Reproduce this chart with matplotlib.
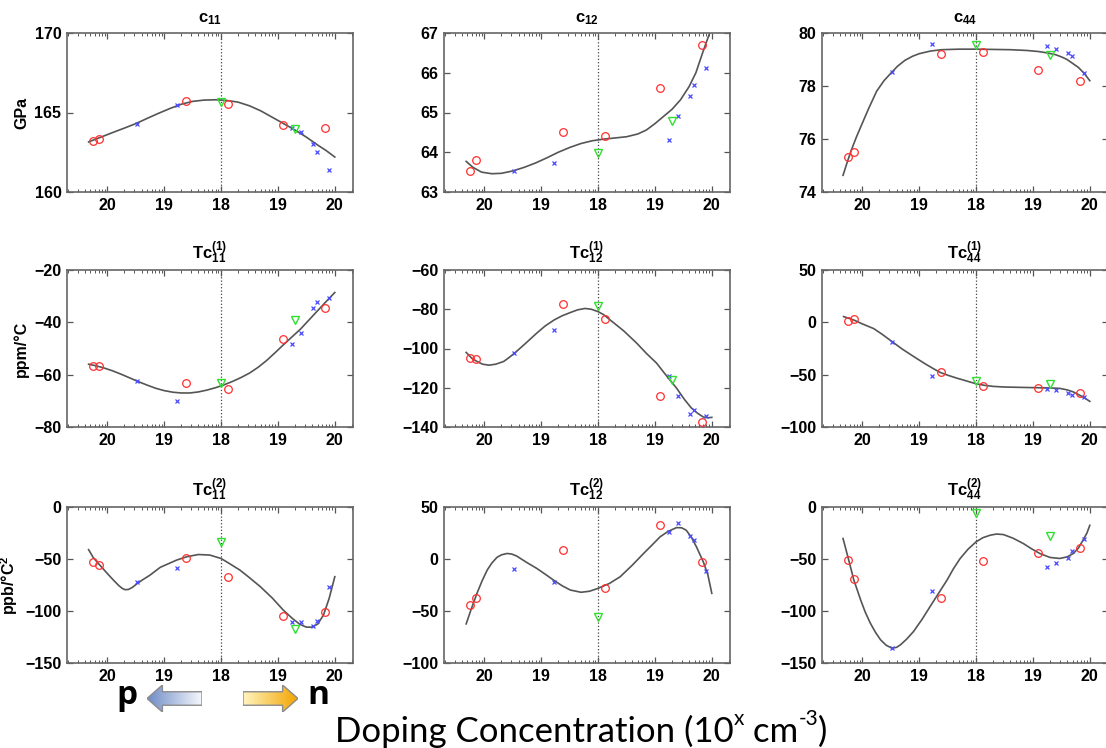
import numpy as np
import matplotlib
matplotlib.use('Agg')
import matplotlib.pyplot as plt
from matplotlib.patches import Polygon

plt.rcParams['font.family'] = ['Liberation Sans', 'DejaVu Sans']
plt.rcParams['font.weight'] = 'bold'
plt.rcParams['mathtext.fontset'] = 'custom'
plt.rcParams['mathtext.rm'] = 'Liberation Sans:bold'
plt.rcParams['mathtext.it'] = 'Liberation Sans:bold'
plt.rcParams['mathtext.bf'] = 'Liberation Sans:bold'

# x axis: decades away from 1e18, p-type to the left, n-type to the right
x_ticks = [-2, -1, 0, 1, 2]
x_ticklabels = ['20', '19', '18', '19', '20']

red_x = [-2.26, -2.15, -0.62, 0.13, 1.09, 1.83]
blue_x = [-1.48, -0.78, 1.25, 1.41, 1.62, 1.68, 1.89]
green_x = [0.0, 1.30]

# ---- c11 (GPa)
c11_red = [163.2, 163.33, 165.75, 165.56, 164.2, 164.0]
c11_blue = [164.25, 165.5, 164.0, 163.8, 163.05, 162.5, 161.4]
c11_green = [165.64, 163.96]
c11_fit_x = [-2.33, -2.15, -1.9, -1.7, -1.5, -1.3, -1.1, -0.9, -0.7, -0.5, -0.3, -0.1, 0.1, 0.3, 0.5, 0.7,
             0.9, 1.1, 1.3, 1.5, 1.7, 1.85, 2.0]
c11_fit_y = [163.15, 163.4, 163.75, 164.02, 164.3, 164.63, 164.95, 165.25, 165.52, 165.7, 165.78, 165.8,
             165.76, 165.65, 165.42, 165.1, 164.7, 164.3, 163.9, 163.45, 162.95, 162.6, 162.2]

# ---- c12
c12_red = [63.52, 63.8, 64.5, 64.4, 65.61, 66.7]
c12_blue = [63.53, 63.72, 64.32, 64.91, 65.42, 65.7, 66.11]
c12_green = [63.97, 64.79]
c12_fit_x = [-2.32, -2.2, -2.05, -1.87, -1.7, -1.5, -1.3, -1.1, -0.9, -0.7, -0.5, -0.3, -0.1, 0.1, 0.3,
             0.5, 0.7, 0.85, 1.0, 1.15, 1.3, 1.45, 1.6, 1.72, 1.85, 1.95, 2.02]
c12_fit_y = [63.77, 63.62, 63.5, 63.46, 63.47, 63.53, 63.62, 63.73, 63.86, 64.0, 64.12, 64.22, 64.29, 64.33,
             64.36, 64.39, 64.46, 64.56, 64.72, 64.9, 65.08, 65.32, 65.65, 66.0, 66.55, 66.95, 67.2]

# ---- c44
c44_red = [75.33, 75.52, 79.2, 79.28, 78.6, 78.19]
c44_blue = [78.51, 79.58, 79.5, 79.4, 79.24, 79.12, 78.5]
c44_green = [79.53, 79.18]
c44_fit_x = [-2.34, -2.27, -2.2, -2.1, -2.0, -1.9, -1.75, -1.62, -1.5, -1.38, -1.25, -1.12, -1.0, -0.8,
             -0.6, -0.3, 0.0, 0.3, 0.6, 0.9, 1.1, 1.25, 1.4, 1.5, 1.6, 1.7, 1.8, 1.9, 2.0]
c44_fit_y = [74.63, 75.1, 75.55, 76.1, 76.6, 77.1, 77.8, 78.2, 78.48, 78.75, 78.97, 79.12, 79.22, 79.32,
             79.37, 79.39, 79.39, 79.38, 79.37, 79.34, 79.3, 79.25, 79.18, 79.1, 79.0, 78.85, 78.7, 78.48,
             78.2]

# ---- Tc1_11 (ppm/C)
tc1_11_red = [-56.5, -56.6, -63.2, -65.4, -46.3, -34.6]
tc1_11_blue = [-62.3, -70.0, -48.3, -43.9, -34.4, -32.2, -30.6]
tc1_11_green = [-63.0, -39.1]
tc1_11_fit_x = [-2.33, -2.2, -2.05, -1.9, -1.75, -1.6, -1.45, -1.3, -1.15, -1.0, -0.85, -0.7, -0.55, -0.4,
                -0.25, -0.1, 0.05, 0.2, 0.35, 0.5, 0.65, 0.8, 0.95, 1.1, 1.25, 1.4, 1.55, 1.7, 1.85, 2.0]
tc1_11_fit_y = [-56.0, -56.6, -57.5, -58.6, -59.9, -61.3, -62.7, -64.0, -65.2, -66.1, -66.7, -67.0, -67.0,
                -66.6, -65.9, -65.0, -63.9, -62.6, -61.1, -59.4, -57.2, -54.6, -51.6, -48.5, -45.5, -42.5,
                -39.0, -35.5, -32.0, -28.6]

# ---- Tc1_12
tc1_12_red = [-104.6, -105.4, -77.5, -84.9, -124.4, -137.6]
tc1_12_blue = [-102.4, -90.5, -114.2, -124.4, -133.4, -131.5, -134.6]
tc1_12_green = [-78.3, -116.3]
tc1_12_fit_x = [-2.32, -2.22, -2.13, -2.03, -1.92, -1.8, -1.66, -1.57, -1.47, -1.28, -1.08, -0.93, -0.77,
                -0.63, -0.49, -0.36, -0.23, -0.12, 0.0, 0.1, 0.21, 0.45, 0.68, 0.85, 1.03, 1.2, 1.38, 1.52,
                1.64, 1.75, 1.85, 1.93, 2.0]
tc1_12_fit_y = [-102.0, -105.0, -106.6, -108.0, -108.5, -108.0, -106.6, -104.7, -102.4, -97.5, -92.2, -88.5,
                -85.4, -83.3, -81.7, -80.3, -79.6, -80.0, -81.2, -82.8, -85.4, -91.0, -97.3, -102.5, -107.5,
                -113.8, -120.2, -126.0, -130.3, -133.0, -134.9, -135.3, -135.1]

# ---- Tc1_44
tc1_44_red = [1.7, 3.0, -47.9, -61.2, -62.8, -67.6]
tc1_44_blue = [-19.0, -51.7, -63.4, -65.0, -67.6, -69.2, -71.4]
tc1_44_green = [-55.8, -58.7]
tc1_44_fit_x = [-2.33, -2.15, -2.0, -1.8, -1.65, -1.48, -1.3, -1.1, -0.9, -0.75, -0.63, -0.5, -0.34, -0.15,
                0.0, 0.15, 0.3, 0.5, 0.83, 1.1, 1.3, 1.47, 1.6, 1.71, 1.8, 1.9, 2.0]
tc1_44_fit_y = [5.5, 2.2, -1.5, -6.0, -11.5, -18.3, -25.5, -32.6, -39.5, -44.3, -47.9, -50.5, -53.3, -56.3,
                -58.7, -60.2, -61.2, -61.8, -62.2, -62.5, -62.7, -63.1, -64.5, -66.5, -69.0, -72.0, -75.5]

# ---- Tc2_11 (ppb/C^2)
tc2_11_red = [-53.3, -55.9, -48.8, -67.0, -104.7, -101.2]
tc2_11_blue = [-72.5, -58.4, -110.8, -110.4, -114.9, -109.8, -77.2]
tc2_11_green = [-33.5, -117.1]
tc2_11_fit_x = [-2.33, -2.25, -2.13, -2.0, -1.89, -1.8, -1.74, -1.69, -1.63, -1.56, -1.48, -1.38, -1.25,
                -1.07, -0.78, -0.6, -0.4, -0.2, 0.0, 0.15, 0.33, 0.5, 0.69, 0.9, 1.09, 1.25, 1.39, 1.5, 1.6,
                1.7, 1.8, 1.9, 2.0]
tc2_11_fit_y = [-41.0, -48.5, -56.0, -64.0, -70.5, -75.5, -78.2, -79.5, -79.3, -77.3, -73.8, -70.0, -65.5,
                -58.0, -51.0, -47.8, -45.7, -46.2, -49.5, -54.5, -60.6, -68.0, -76.6, -87.5, -98.9, -107.0,
                -113.0, -115.5, -115.5, -112.5, -104.0, -88.0, -67.0]

# ---- Tc2_12
tc2_12_red = [-44.2, -37.1, 8.5, -27.6, 32.4, -2.7]
tc2_12_blue = [-10.0, -21.8, 26.1, 34.7, 22.2, 18.7, -11.3]
tc2_12_green = [-55.3, np.nan]
tc2_12_fit_x = [-2.32, -2.23, -2.13, -2.04, -1.95, -1.87, -1.78, -1.7, -1.6, -1.52, -1.43, -1.25, -1.08,
                -0.92, -0.77, -0.63, -0.49, -0.3, -0.15, 0.0, 0.2, 0.39, 0.6, 0.8, 0.95, 1.09, 1.23, 1.38,
                1.47, 1.55, 1.64, 1.73, 1.85, 1.93, 2.0]
tc2_12_fit_y = [-62.4, -48.0, -33.0, -21.0, -10.6, -4.0, 1.5, 4.0, 5.3, 4.8, 2.8, -3.5, -9.0, -15.0, -20.8,
                -25.8, -29.8, -32.0, -31.0, -28.2, -23.5, -17.0, -6.0, 5.3, 13.5, 21.3, 26.5, 30.2, 30.0,
                27.7, 21.0, 11.7, -2.7, -15.0, -33.0]

# ---- Tc2_44
tc2_44_red = [-51.1, -69.6, -87.1, -52.0, -44.7, -39.3]
tc2_44_blue = [-135.7, -80.4, -57.5, -54.3, -49.5, -42.1, -30.3]
tc2_44_green = [-5.7, -27.8]
tc2_44_fit_x = [-2.34, -2.24, -2.15, -2.03, -1.95, -1.86, -1.77, -1.68, -1.58, -1.48, -1.4, -1.33, -1.22,
                -1.1, -0.95, -0.81, -0.66, -0.51, -0.4, -0.28, -0.14, 0.0, 0.12, 0.25, 0.36, 0.48, 0.65,
                0.83, 0.97, 1.12, 1.3, 1.47, 1.6, 1.71, 1.8, 1.88, 1.95, 2.0]
tc2_44_fit_y = [-30.3, -51.0, -70.2, -89.4, -101.0, -111.7, -120.5, -127.7, -133.0, -135.7, -135.0, -132.5,
                -127.0, -119.7, -108.0, -95.8, -83.0, -70.2, -59.5, -49.5, -40.5, -33.5, -29.5, -27.1,
                -26.0, -26.5, -30.0, -35.1, -40.0, -44.7, -48.5, -49.5, -48.0, -44.7, -39.5, -31.9, -25.0,
                -17.6]

titles = [r'$\mathrm{c}_{11}$', r'$\mathrm{c}_{12}$', r'$\mathrm{c}_{44}$',
          r'$\mathrm{Tc}^{(1)}_{11}$', r'$\mathrm{Tc}^{(1)}_{12}$', r'$\mathrm{Tc}^{(1)}_{44}$',
          r'$\mathrm{Tc}^{(2)}_{11}$', r'$\mathrm{Tc}^{(2)}_{12}$', r'$\mathrm{Tc}^{(2)}_{44}$']
row_ylabels = ['GPa', 'ppm/°C', r'ppb/°C$^{2}$']

panels = [
    (c11_red, c11_blue, c11_green, c11_fit_x, c11_fit_y, (160, 170), [160, 165, 170]),
    (c12_red, c12_blue, c12_green, c12_fit_x, c12_fit_y, (63, 67), [63, 64, 65, 66, 67]),
    (c44_red, c44_blue, c44_green, c44_fit_x, c44_fit_y, (74, 80), [74, 76, 78, 80]),
    (tc1_11_red, tc1_11_blue, tc1_11_green, tc1_11_fit_x, tc1_11_fit_y, (-80, -20), [-80, -60, -40, -20]),
    (tc1_12_red, tc1_12_blue, tc1_12_green, tc1_12_fit_x, tc1_12_fit_y, (-140, -60),
     [-140, -120, -100, -80, -60]),
    (tc1_44_red, tc1_44_blue, tc1_44_green, tc1_44_fit_x, tc1_44_fit_y, (-100, 50), [-100, -50, 0, 50]),
    (tc2_11_red, tc2_11_blue, tc2_11_green, tc2_11_fit_x, tc2_11_fit_y, (-150, 0), [-150, -100, -50, 0]),
    (tc2_12_red, tc2_12_blue, tc2_12_green, tc2_12_fit_x, tc2_12_fit_y, (-100, 50), [-100, -50, 0, 50]),
    (tc2_44_red, tc2_44_blue, tc2_44_green, tc2_44_fit_x, tc2_44_fit_y, (-150, 0), [-150, -100, -50, 0]),
]

W, H = 1106, 748
fig = plt.figure(figsize=(W / 100, H / 100), dpi=100)

col_left = [67, 444, 822]
ax_w = 286
row_top = [33, 270, 507]
row_bot = [192, 427, 663]

# log-style minor ticks repeated in every decade
minor = [m + np.log10(k) for m in range(-3, 3) for k in range(2, 10)]
minor = [v for v in minor if -2.71 < v < 2.32]

for i, (red, blue, green, fx, fy, ylim, yticks) in enumerate(panels):
    r, c = divmod(i, 3)
    ax = fig.add_axes([col_left[c] / W, (H - row_bot[r]) / H, ax_w / W, (row_bot[r] - row_top[r]) / H])
    ax.axvline(0, color='#444444', ls=':', lw=0.9, zorder=1)
    ax.plot(fx, fy, color='#555555', lw=1.2, zorder=2, solid_joinstyle='round')
    ax.plot(red_x, red, 'o', mfc='none', mec='#ff3030', ms=5.5, mew=0.9, zorder=3)
    ax.plot(blue_x, blue, 'x', color='#4a4aff', ms=3.5, mew=0.9, zorder=3)
    ax.plot(green_x, green, 'v', mfc='none', mec='#30e030', ms=6, mew=1.0, zorder=3)

    ax.set_xlim(-2.71, 2.32)
    ax.set_ylim(*ylim)
    ax.set_xticks(x_ticks)
    ax.set_xticklabels(x_ticklabels)
    ax.set_xticks(minor, minor=True)
    ax.set_yticks(yticks)
    ax.tick_params(which='both', direction='in', top=True, right=True, colors='#555555',
                   labelcolor='black', labelsize=11.5, pad=4)
    ax.tick_params(which='major', length=4, width=0.9)
    ax.tick_params(which='minor', length=2, width=0.7)
    for s in ax.spines.values():
        s.set_color('#666666')
        s.set_linewidth(1.2)
    for lab in ax.get_xticklabels() + ax.get_yticklabels():
        lab.set_fontweight('bold')
    ax.set_title(titles[i], fontsize=12, pad=8)
    if c == 0:
        ax.set_ylabel(row_ylabels[r], fontsize=11.5, fontweight='bold', labelpad=4)


def gradient_arrow(x0, y0, w, h, pointing, c_left, c_right):
    a = fig.add_axes([x0 / W, (H - y0 - h) / H, w / W, h / H])
    a.set_xlim(0, 1)
    a.set_ylim(0, 1)
    a.axis('off')
    hl = 0.28
    if pointing == 'left':
        pts = [(0, 0.5), (hl, 1), (hl, 0.75), (1, 0.75), (1, 0.25), (hl, 0.25), (hl, 0)]
    else:
        pts = [(1, 0.5), (1 - hl, 1), (1 - hl, 0.75), (0, 0.75), (0, 0.25), (1 - hl, 0.25), (1 - hl, 0)]
    poly = Polygon(pts, closed=True, facecolor='none', edgecolor='#8c8c8c', lw=1.0, zorder=3)
    a.add_patch(poly)
    c1 = np.array(matplotlib.colors.to_rgb(c_left))
    c2 = np.array(matplotlib.colors.to_rgb(c_right))
    t = np.linspace(0, 1, 64)[None, :, None]
    img = c1 + (c2 - c1) * t
    im = a.imshow(img, extent=[0, 1, 0, 1], aspect='auto', zorder=2)
    im.set_clip_path(poly)


gradient_arrow(147, 685, 55, 27, 'left', '#6f8cc6', '#f5f7fc')
gradient_arrow(243, 685, 55, 27, 'right', '#fff4c0', '#f3a500')

fig.text(127 / W, (H - 704) / H, 'p', fontsize=24, fontweight='bold', family=['Open Sans', 'DejaVu Sans'],
         ha='center', va='baseline')
fig.text(318 / W, (H - 704) / H, 'n', fontsize=24, fontweight='bold', family=['Open Sans', 'DejaVu Sans'],
         ha='center', va='baseline')

fam = ['Lato', 'DejaVu Sans']
big, small = 25, 15
t1 = fig.text(335 / W, (H - 742) / H, 'Doping Concentration (10', fontsize=big, fontweight='normal',
              family=fam, ha='left', va='baseline')
s1 = plt.annotate('x', xy=(1, 0.58), xycoords=t1, fontsize=small, fontweight='normal', family=fam,
                  va='bottom', ha='left', annotation_clip=False)
t2 = plt.annotate(' cm', xy=(1, 0), xycoords=(s1, t1), fontsize=big, fontweight='normal', family=fam,
                  va='bottom', ha='left', annotation_clip=False)
s2 = plt.annotate('-3', xy=(1, 0.58), xycoords=(t2, t1), fontsize=small, fontweight='normal', family=fam,
                  va='bottom', ha='left', annotation_clip=False)
t3 = plt.annotate(')', xy=(1, 0), xycoords=(s2, t1), fontsize=big, fontweight='normal', family=fam,
                  va='bottom', ha='left', annotation_clip=False)

fig.savefig('out.png', dpi=100)
